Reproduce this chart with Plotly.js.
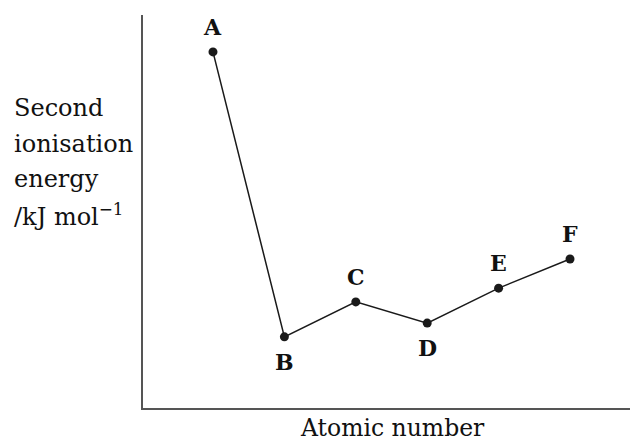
<!DOCTYPE html>
<html>
<head>
<meta charset="utf-8">
<script src="https://cdn.plot.ly/plotly-3.0.1.min.js"></script>
<style>
  html, body { margin: 0; padding: 0; background: #fff; }
  #chart { width: 630px; height: 444px; }
</style>
</head>
<body>
<div id="chart"></div>
<script>
// elements in order of atomic number (arbitrary units)
var labels = ['A', 'B', 'C', 'D', 'E', 'F'];
var atomicNo = [1, 2, 3, 4, 5, 6];
var energy = [90.6, 18.1, 27.0, 21.6, 30.5, 37.9];
var labelSide = [1, -1, 1, -1, 1, 1];   // 1 = above point, -1 = below

var yTitleLines = ['Second', 'ionisation', 'energy', '/kJ mol<sup>\u22121</sup>'];

var serif = 'DejaVu Serif';

var trace = {
  x: atomicNo,
  y: energy,
  mode: 'lines+markers',
  line: { color: '#1a1a1a', width: 1.5 },
  marker: { color: '#1a1a1a', size: 9 },
  hoverinfo: 'none'
};

var notes = labels.map(function (t, i) {
  return {
    x: atomicNo[i], y: energy[i], text: '<b>' + t + '</b>',
    showarrow: false, yanchor: 'middle', yshift: labelSide[i] * 25,
    font: { family: serif, size: 22, color: '#111' }
  };
});

// y title stacked by hand to get the wide line spacing of the original
yTitleLines.forEach(function (t, i) {
  notes.push({
    xref: 'paper', yref: 'paper', x: -0.27, y: 0.763 - i * 0.0905,
    xanchor: 'left', yanchor: 'middle', align: 'left', showarrow: false,
    text: t,
    font: { family: serif, size: 24, color: '#111' }
  });
});

notes.push({
  xref: 'paper', yref: 'paper', x: 0.513, y: -0.05,
  xanchor: 'center', yanchor: 'middle', showarrow: false,
  text: 'Atomic number',
  font: { family: serif, size: 23.5, color: '#111' }
});

var layout = {
  width: 630,
  height: 444,
  margin: { l: 143, r: 0, t: 15, b: 36 },
  paper_bgcolor: '#fff',
  plot_bgcolor: '#fff',
  showlegend: false,
  xaxis: {
    range: [0.02, 6.84],
    showline: true, linecolor: '#555', linewidth: 2,
    showgrid: false, zeroline: false, showticklabels: false, ticks: ''
  },
  yaxis: {
    range: [0, 100],
    showline: true, linecolor: '#555', linewidth: 2,
    showgrid: false, zeroline: false, showticklabels: false, ticks: ''
  },
  annotations: notes
};

Plotly.newPlot('chart', [trace], layout, { displayModeBar: false, staticPlot: true });
</script>
</body>
</html>
